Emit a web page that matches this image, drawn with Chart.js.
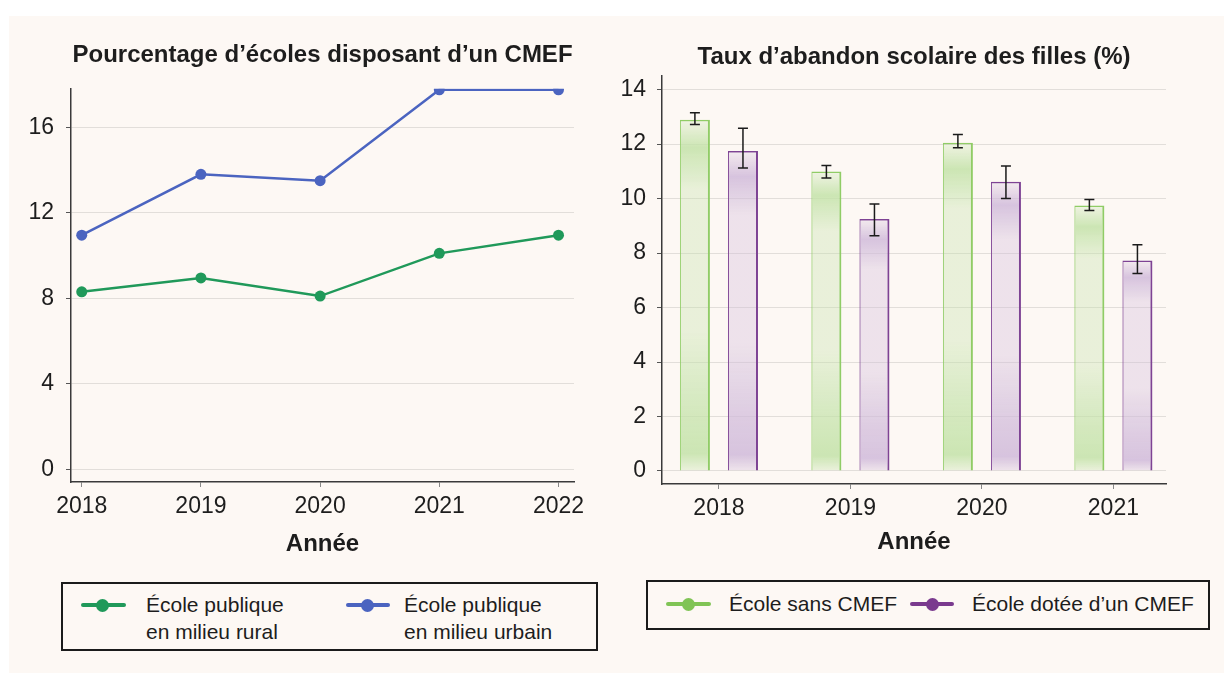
<!DOCTYPE html>
<html lang="fr">
<head>
<meta charset="utf-8">
<title>CMEF</title>
<script src="https://cdn.jsdelivr.net/npm/chart.js@4.4.1/dist/chart.umd.min.js"></script>
<style>
    html, body { margin: 0; padding: 0; background: #fff; }
    body { width: 1224px; height: 673px; position: relative; overflow: hidden;
           font-family: "Liberation Sans", Arial, sans-serif; color: #1d1d1d; }
    .panel { position: absolute; left: 9px; top: 16px; right: 0; bottom: 0; background: #fdf8f4; }
    .chart-box { position: absolute; top: 0; height: 570px; }
    .legend { position: absolute; border: 2.5px solid #1b1b1b; box-sizing: border-box; }
    .sym { position: absolute; height: 4px; border-radius: 2px; }
    .sym span { position: absolute; width: 13px; height: 13px; border-radius: 50%; top: -4.5px; }
    .txt { position: absolute; font-size: 21px; line-height: 27px; white-space: nowrap; }
</style>
</head>
<body>
<div class="panel"></div>

<div class="chart-box" style="left:0; width:600px;"><canvas id="ecoles"></canvas></div>
<div class="chart-box" style="left:600px; width:624px;"><canvas id="abandon"></canvas></div>

<div class="legend" style="left:61px; top:582px; width:537px; height:69px;"></div>
<div class="sym" style="left:81px; top:603px; width:45px; background:#20995a;"><span style="left:15px; background:#20995a;"></span></div>
<div class="txt" style="left:146px; top:591px;">École publique<br>en milieu rural</div>
<div class="sym" style="left:346px; top:603px; width:44px; background:#4b64c0;"><span style="left:15px; background:#4b64c0;"></span></div>
<div class="txt" style="left:404px; top:591px;">École publique<br>en milieu urbain</div>

<div class="legend" style="left:646px; top:580px; width:564px; height:50px;"></div>
<div class="sym" style="left:666px; top:602px; width:45px; background:#80c455;"><span style="left:16px; background:#80c455;"></span></div>
<div class="txt" style="left:729px; top:590px;">École sans CMEF</div>
<div class="sym" style="left:910px; top:602px; width:44px; background:#7a3a8e;"><span style="left:16px; background:#7a3a8e;"></span></div>
<div class="txt" style="left:972px; top:590px;">École dotée d’un CMEF</div>

<script>
    // left chart: share of schools with a CMEF
    const lineYears = [2018, 2019, 2020, 2021, 2022];
    const rural = [8.3, 8.95, 8.1, 10.1, 10.95];
    const urbain = [10.95, 13.8, 13.5, 17.75, 17.75];
    const lineTicks = [0, 4, 8, 12, 16];

    // right chart: girls' dropout rate (%)
    const barYears = [2018, 2019, 2020, 2021];
    const sansCmef = [12.9, 11.0, 12.05, 9.75];
    const sansLow = [12.72, 10.76, 11.87, 9.56];
    const sansHigh = [13.15, 11.22, 12.35, 9.97];
    const avecCmef = [11.75, 9.25, 10.62, 7.73];
    const avecLow = [11.12, 8.64, 10.0, 7.25];
    const avecHigh = [12.58, 9.8, 11.2, 8.31];
    const barTicks = [0, 2, 4, 6, 8, 10, 12, 14];

    const FONT = '"Liberation Sans", Arial, sans-serif';
    const INK = '#1d1d1d';
    Chart.defaults.font.family = FONT;
    Chart.defaults.color = INK;

    function fixTicks(values) {
        return (scale) => { scale.ticks = values.map((v) => ({ value: v })); };
    }

    function axisTitle(pb) {
        return { display: true, text: 'Année', color: INK, padding: { top: 0, bottom: pb },
                 font: { size: 24, weight: 'bold', lineHeight: 1.2 } };
    }

    function chartTitle(text, top, bottom) {
        return { display: true, text: text, color: INK, fullSize: false,
                 padding: { top: top, bottom: bottom },
                 font: { size: 24, weight: 'bold', lineHeight: 1.2 } };
    }

    function xScale(min, max, years, height, pb) {
        return {
            type: 'linear', min: min, max: max, offset: false,
            afterBuildTicks: fixTicks(years),
            afterFit: (s) => { s.height = height; s.paddingLeft = 0; s.paddingRight = 0; },
            ticks: { callback: (v) => String(v), padding: 6, font: { size: 23 }, color: INK, maxRotation: 0 },
            grid: { offset: false, drawOnChartArea: false, drawTicks: true, tickLength: 5, tickColor: '#888' },
            border: { color: '#3a3a3a', width: 1.5 },
            title: axisTitle(pb)
        };
    }

    function yScale(min, max, ticks, width, pad) {
        return {
            min: min, max: max,
            afterBuildTicks: fixTicks(ticks),
            afterFit: (s) => { s.width = width; s.paddingTop = 0; s.paddingBottom = 0; },
            ticks: { padding: pad, font: { size: 23 }, color: INK },
            grid: { color: '#e2deda', lineWidth: 1, tickLength: 5, tickColor: '#555' },
            border: { color: '#3a3a3a', width: 1.5 }
        };
    }

    new Chart(document.getElementById('ecoles'), {
        type: 'line',
        data: {
            datasets: [
                { label: 'École publique en milieu rural',
                  data: lineYears.map((yr, i) => ({ x: yr, y: rural[i] })),
                  borderColor: '#20995a', backgroundColor: '#20995a' },
                { label: 'École publique en milieu urbain',
                  data: lineYears.map((yr, i) => ({ x: yr, y: urbain[i] })),
                  borderColor: '#4b64c0', backgroundColor: '#4b64c0' }
            ]
        },
        options: {
            responsive: true, maintainAspectRatio: false, animation: false,
            layout: { padding: { left: 0, right: 26, top: 0, bottom: 0 } },
            elements: {
                line: { borderWidth: 2.5, tension: 0 },
                point: { radius: 5.5, borderWidth: 0, hoverRadius: 5.5 }
            },
            plugins: {
                legend: { display: false },
                tooltip: { enabled: false },
                title: chartTitle('Pourcentage d’écoles disposant d’un CMEF', 41, 19)
            },
            scales: {
                x: xScale(2017.91, 2022.13, lineYears, 88, 11),
                y: yScale(-0.6, 17.8, lineTicks, 71, 12)
            }
        }
    });

    function barFill(rgb) {
        return (ctx) => {
            const chart = ctx.chart;
            if (!chart.chartArea || !ctx.parsed) return `rgba(${rgb},0.5)`;
            const y = chart.scales.y;
            const y0 = y.getPixelForValue(0);
            const y1 = y.getPixelForValue(ctx.parsed.y);
            const g = chart.ctx.createLinearGradient(0, y0, 0, y1);
            g.addColorStop(0, `rgba(${rgb},0.3)`);
            g.addColorStop(0.05, `rgba(${rgb},0.85)`);
            g.addColorStop(0.18, `rgba(${rgb},0.7)`);
            g.addColorStop(0.4, `rgba(${rgb},0.35)`);
            g.addColorStop(0.8, `rgba(${rgb},0.35)`);
            g.addColorStop(0.92, `rgba(${rgb},0.85)`);
            g.addColorStop(1, `rgba(${rgb},0.2)`);
            return g;
        };
    }

    const errorBars = {
        id: 'errorBars',
        afterDatasetsDraw(chart) {
            const { ctx, scales: { y } } = chart;
            ctx.save();
            ctx.strokeStyle = '#1b1b1b';
            ctx.lineWidth = 1.5;
            chart.data.datasets.forEach((ds, i) => {
                chart.getDatasetMeta(i).data.forEach((bar, j) => {
                    const lo = y.getPixelForValue(ds.errLow[j]);
                    const hi = y.getPixelForValue(ds.errHigh[j]);
                    ctx.beginPath();
                    ctx.moveTo(bar.x, lo); ctx.lineTo(bar.x, hi);
                    ctx.moveTo(bar.x - 5, lo); ctx.lineTo(bar.x + 5, lo);
                    ctx.moveTo(bar.x - 5, hi); ctx.lineTo(bar.x + 5, hi);
                    ctx.stroke();
                });
            });
            ctx.restore();
        }
    };

    new Chart(document.getElementById('abandon'), {
        type: 'bar',
        data: {
            datasets: [
                { label: 'École sans CMEF',
                  data: barYears.map((yr, i) => ({ x: yr, y: sansCmef[i] })),
                  errLow: sansLow, errHigh: sansHigh,
                  backgroundColor: barFill('195,226,168'), borderColor: '#90cc66' },
                { label: 'École dotée d’un CMEF',
                  data: barYears.map((yr, i) => ({ x: yr, y: avecCmef[i] })),
                  errLow: avecLow, errHigh: avecHigh,
                  backgroundColor: barFill('208,186,218'), borderColor: '#7e4394' }
            ]
        },
        options: {
            responsive: true, maintainAspectRatio: false, animation: false,
            layout: { padding: { left: 0, right: 58, top: 0, bottom: 0 } },
            elements: {
                bar: { borderWidth: { top: 1.5, right: 2, left: 1, bottom: 0 }, borderSkipped: 'bottom' }
            },
            datasets: { bar: { categoryPercentage: 0.731, barPercentage: 0.625 } },
            plugins: {
                legend: { display: false },
                tooltip: { enabled: false },
                title: chartTitle('Taux d’abandon scolaire des filles (%)', 43, 4)
            },
            scales: {
                x: xScale(2017.567, 2021.4, barYears, 86, 13),
                y: yScale(-0.48, 14.51, barTicks, 62, 11)
            }
        },
        plugins: [errorBars]
    });
</script>
</body>
</html>
